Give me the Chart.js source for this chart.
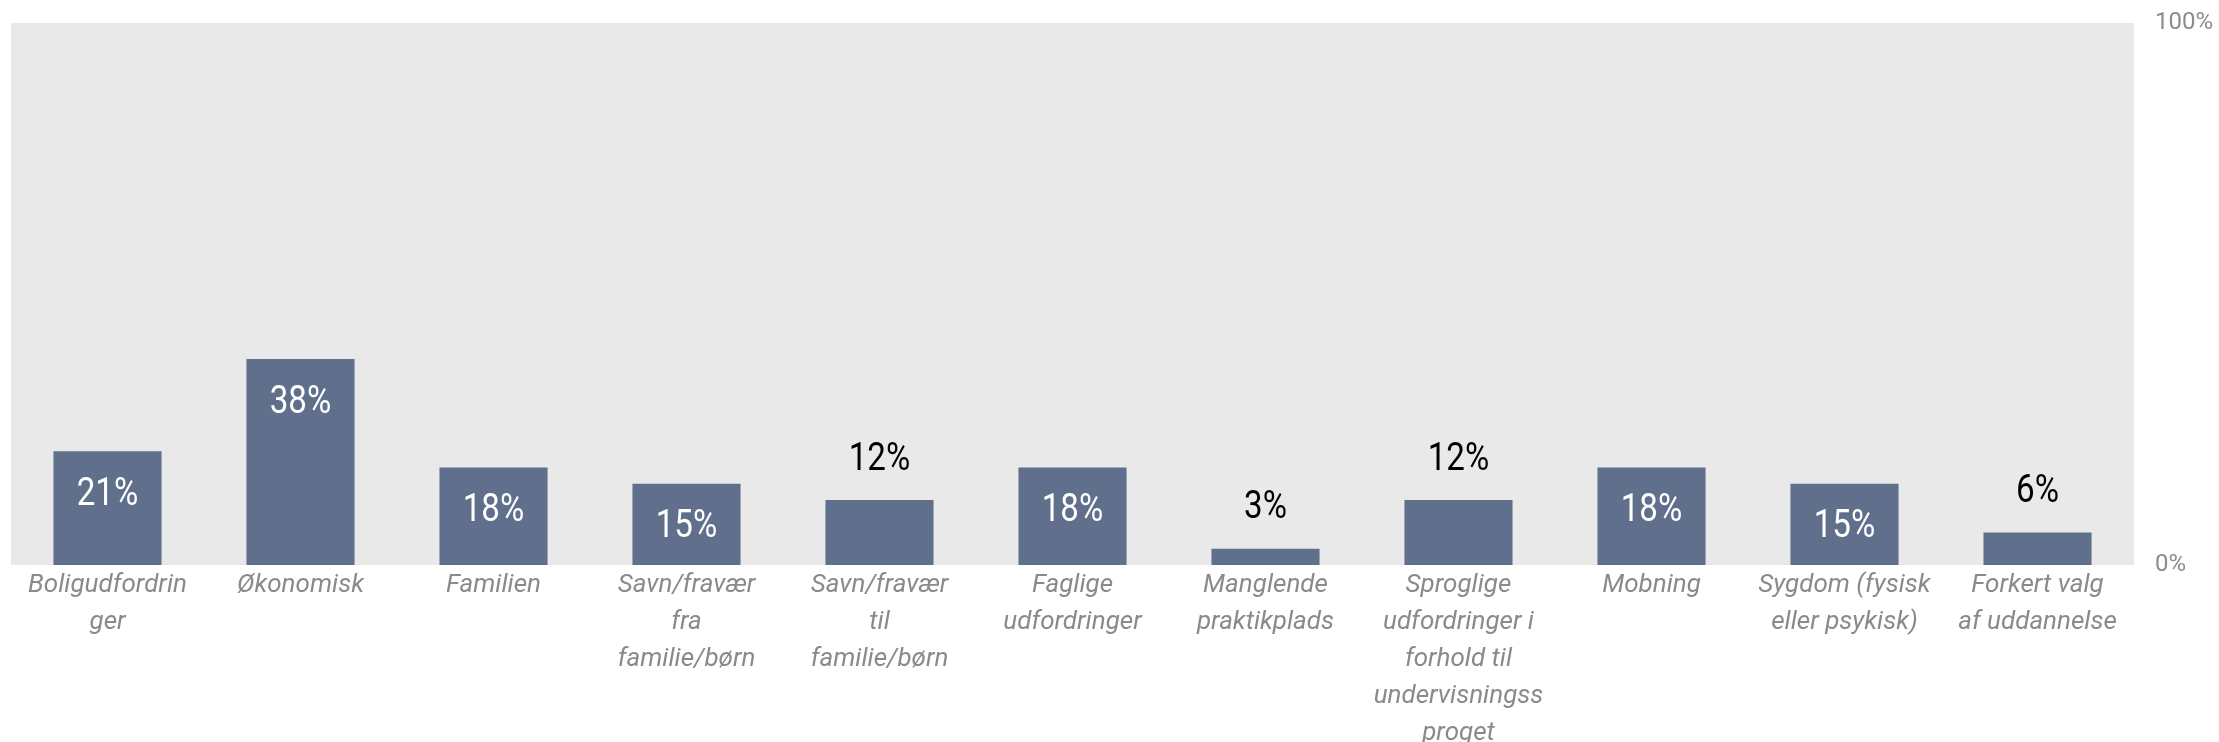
<!DOCTYPE html>
<html>
<head>
<meta charset="utf-8">
<script src="https://cdn.jsdelivr.net/npm/chart.js@4/dist/chart.umd.min.js"></script>
<style>
	html, body { margin: 0; padding: 0; background: #ffffff; }
	#wrap { width: 2219px; height: 742px; }
</style>
</head>
<body>
<div id="wrap"><canvas id="barChart"></canvas></div>
<script>
var categories = [
	["Boligudfordrin", "ger"],
	"Økonomisk",
	"Familien",
	["Savn/fravær", "fra", "familie/børn"],
	["Savn/fravær", "til", "familie/børn"],
	["Faglige", "udfordringer"],
	["Manglende", "praktikplads"],
	["Sproglige", "udfordringer i", "forhold til", "undervisningss", "proget"],
	"Mobning",
	["Sygdom (fysisk", "eller psykisk)"],
	["Forkert valg", "af uddannelse"]
];
var values = [21, 38, 18, 15, 12, 18, 3, 12, 18, 15, 6];
var yTicks = [0, 100];

// grå baggrund bag plotområdet
var plotBackground = {
	id: 'plotBackground',
	beforeDraw: function(chart) {
		var a = chart.chartArea;
		var ctx = chart.ctx;
		ctx.save();
		ctx.fillStyle = '#e9e9e9';
		ctx.fillRect(a.left, a.top, a.right - a.left, a.bottom - a.top);
		ctx.restore();
	}
};

// procent-labels: hvide inde i søjlen, sorte over små søjler
var valueLabels = {
	id: 'valueLabels',
	afterDatasetsDraw: function(chart) {
		var ctx = chart.ctx;
		var meta = chart.getDatasetMeta(0);
		ctx.save();
		ctx.font = '39px Roboto';
		ctx.textAlign = 'center';
		ctx.textBaseline = 'middle';
		meta.data.forEach(function(bar, i) {
			var v = values[i];
			var inside = v > 12;
			var y = inside ? bar.y + 44 : bar.y - 40;
			ctx.fillStyle = inside ? '#ffffff' : '#000000';
			ctx.save();
			ctx.translate(bar.x, y);
			ctx.scale(0.85, 1);
			ctx.fillText(v + '%', 0, 0);
			ctx.restore();
		});
		ctx.restore();
	}
};

var ctx = document.getElementById('barChart').getContext('2d');
var barChart = new Chart(ctx, {
	type: 'bar',
	data: {
		labels: categories,
		datasets: [{
			data: values,
			backgroundColor: '#5f6f8c',
			borderWidth: 0,
			categoryPercentage: 1.0,
			barPercentage: 0.56
		}]
	},
	options: {
		responsive: true,
		maintainAspectRatio: false,
		animation: false,
		devicePixelRatio: 1,
		layout: {
			padding: { left: 11, top: 23, right: 4, bottom: 0 }
		},
		plugins: {
			legend: { display: false },
			tooltip: { enabled: false }
		},
		scales: {
			x: {
				grid: { display: false, drawTicks: false },
				border: { display: false },
				ticks: {
					autoSkip: false,
					maxRotation: 0,
					minRotation: 0,
					padding: 2,
					color: '#8a8a8a',
					font: { family: 'Roboto', size: 26, style: 'italic', lineHeight: 1.42 }
				},
				afterFit: function(scale) {
					scale.height = 177;
				}
			},
			y: {
				position: 'right',
				min: 0,
				max: 100,
				grid: { display: false, drawTicks: false },
				border: { display: false },
				afterBuildTicks: function(scale) {
					scale.ticks = yTicks.map(function(v) { return { value: v }; });
				},
				afterFit: function(scale) {
					scale.width = 81;
					scale.paddingTop = 0;
					scale.paddingBottom = 0;
				},
				ticks: {
					padding: 21,
					color: '#8c8c8c',
					font: { family: 'Roboto', size: 24, lineHeight: 1 },
					callback: function(v) { return v + '%'; }
				}
			}
		}
	},
	plugins: [plotBackground, valueLabels]
});
</script>
</body>
</html>
